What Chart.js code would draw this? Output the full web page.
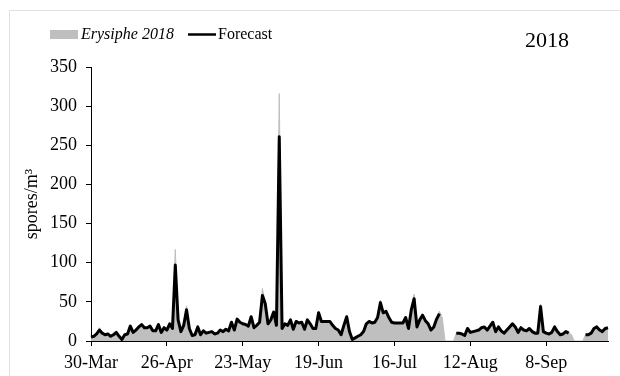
<!DOCTYPE html>
<html>
<head>
<meta charset="utf-8">
<script src="https://cdn.jsdelivr.net/npm/chart.js@4.4.1/dist/chart.umd.min.js"></script>
<style>
  html, body { margin: 0; padding: 0; background: #fff; }
  canvas { display: block; }
</style>
</head>
<body>
<canvas id="chart" width="620" height="376"></canvas>
<script>
// daily series from 30-Mar-2018, one value per day (185 days)
const startDate = new Date(2018, 2, 30)
const dayCount = 185
const monthNames = ['Jan', 'Feb', 'Mar', 'Apr', 'May', 'Jun', 'Jul', 'Aug', 'Sep', 'Oct', 'Nov', 'Dec']
const dates = Array.from({ length: dayCount }, (_, i) => {
  const d = new Date(startDate.getFullYear(), startDate.getMonth(), startDate.getDate() + i)
  return d.getDate() + '-' + monthNames[d.getMonth()]
})

const tickLabels = ['30-Mar', '26-Apr', '23-May', '19-Jun', '16-Jul', '12-Aug', '8-Sep']

// Erysiphe 2018 (observed)
const observed = [
  5, 7, 10, 17, 11, 8, 9, 7, 8, 12,
  6, 3, 8, 10, 20, 12, 14, 18, 21, 17,
  17, 19, 14, 13, 21, 12, 17, 15, 22, 17,
  117, 29, 13, 21, 45, 17, 8, 9, 19, 9,
  13, 11, 11, 12, 10, 10, 14, 12, 15, 14,
  25, 15, 29, 24, 22, 21, 19, 32, 18, 21,
  25, 67, 50, 23, 27, 38, 21, 316, 17, 22,
  21, 27, 16, 25, 23, 24, 16, 27, 22, 17,
  16, 38, 25, 25, 25, 25, 20, 16, 14, 9,
  21, 33, 12, 2, 4, 6, 9, 13, 22, 25,
  24, 25, 31, 52, 37, 38, 31, 25, 23, 23,
  23, 24, 31, 17, 42, 60, 19, 28, 34, 27,
  23, 15, 19, 29, 38, 30, 0, 0, 0, 0,
  10, 10, 9, 8, 16, 11, 12, 13, 14, 17,
  18, 15, 19, 25, 12, 18, 13, 11, 14, 18,
  22, 18, 12, 17, 14, 13, 16, 12, 11, 11,
  47, 13, 11, 10, 11, 18, 12, 9, 10, 12,
  11, 8, 0, 0, 0, 0, 8, 9, 11, 16,
  18, 15, 13, 16, 17
]

// Forecast
const forecast = [
  5, 6, 9, 14, 10, 8, 9, 6, 8, 11,
  6, 2, 8, 9, 19, 11, 14, 18, 21, 17,
  17, 19, 13, 13, 21, 11, 17, 14, 22, 16,
  97, 27, 12, 20, 40, 16, 7, 8, 18, 8,
  13, 10, 11, 12, 9, 10, 14, 12, 15, 13,
  24, 14, 28, 24, 22, 21, 19, 31, 17, 20,
  24, 58, 48, 22, 27, 37, 20, 261, 16, 22,
  20, 27, 15, 25, 23, 24, 15, 27, 22, 16,
  16, 36, 25, 25, 25, 25, 20, 16, 14, 8,
  20, 31, 12, 2, 4, 6, 8, 12, 22, 25,
  23, 24, 30, 49, 36, 38, 30, 24, 23, 23,
  23, 23, 30, 16, 40, 54, 18, 27, 33, 26,
  22, 14, 18, 28, 35, null, null, null, null, null,
  10, 10, 9, 7, 16, 11, 12, 13, 14, 17,
  18, 14, 19, 24, 12, 18, 13, 10, 14, 18,
  22, 18, 11, 17, 14, 13, 16, 12, 10, 10,
  44, 12, 10, 9, 11, 18, 12, 8, 9, 12,
  10, null, null, null, null, null, 8, 8, 10, 16,
  18, 14, 12, 16, 17
]

const FONT = 'Liberation Serif'
Chart.defaults.font.family = FONT
Chart.defaults.color = '#000'

// legend, year label and outer frame drawn by hand
const decorations = {
  id: 'decorations',
  beforeDraw (chart) {
    const ctx = chart.ctx
    ctx.save()
    ctx.strokeStyle = '#e2e2e2'
    ctx.lineWidth = 1
    ctx.strokeRect(9.5, 10.5, 700, 500)
    ctx.restore()
  },
  afterDraw (chart) {
    const ctx = chart.ctx
    const [obs, fc] = [chart.data.datasets[1], chart.data.datasets[0]]
    ctx.save()
    ctx.textBaseline = 'middle'
    ctx.fillStyle = obs.backgroundColor
    ctx.fillRect(50, 30, 28, 9)
    ctx.fillStyle = '#000'
    ctx.font = 'italic 16px "' + FONT + '"'
    ctx.fillText(obs.label, 81, 35)
    ctx.strokeStyle = fc.borderColor
    ctx.lineWidth = 2.5
    ctx.beginPath()
    ctx.moveTo(188, 34.5)
    ctx.lineTo(216, 34.5)
    ctx.stroke()
    ctx.font = '16px "' + FONT + '"'
    ctx.fillText(fc.label, 218, 35)
    ctx.font = '22px "' + FONT + '"'
    ctx.fillText('2018', 525, 41)
    ctx.restore()
  }
}

new Chart(document.getElementById('chart'), {
  type: 'line',
  data: {
    labels: dates,
    datasets: [{
      label: 'Forecast',
      data: forecast,
      borderColor: '#000',
      borderWidth: 3,
      borderJoinStyle: 'round',
      pointRadius: 0,
      tension: 0,
      spanGaps: false,
      fill: false,
      order: 1
    }, {
      label: 'Erysiphe 2018',
      data: observed,
      borderColor: '#bfbfbf',
      backgroundColor: '#bfbfbf',
      borderWidth: 1,
      pointRadius: 0,
      tension: 0,
      fill: 'origin',
      order: 2
    }]
  },
  options: {
    responsive: false,
    animation: false,
    devicePixelRatio: 1,
    layout: {
      padding: { left: 0, top: 67, right: 12, bottom: 0 }
    },
    plugins: {
      legend: { display: false },
      tooltip: { enabled: false }
    },
    scales: {
      x: {
        type: 'category',
        offset: false,
        grid: {
          drawOnChartArea: false,
          drawTicks: true,
          tickLength: 5,
          color: '#000'
        },
        border: { display: true, color: '#000', width: 1 },
        ticks: {
          autoSkip: false,
          maxRotation: 0,
          padding: 6,
          font: { size: 18 }
        },
        afterBuildTicks: s => {
          s.ticks = s.ticks.filter(t => tickLabels.includes(dates[t.value]))
        },
        afterFit: s => { s.height = 35 }
      },
      y: {
        min: 0,
        max: 350,
        grid: {
          drawOnChartArea: false,
          drawTicks: true,
          tickLength: 5,
          color: '#000'
        },
        border: { display: true, color: '#000', width: 1 },
        ticks: {
          stepSize: 50,
          padding: 9,
          font: { size: 18 }
        },
        title: {
          display: true,
          text: 'spores/m³',
          font: { size: 18 },
          padding: { top: 21, bottom: 0 }
        },
        afterFit: s => { s.width = 91 }
      }
    }
  },
  plugins: [decorations]
})
</script>
</body>
</html>
